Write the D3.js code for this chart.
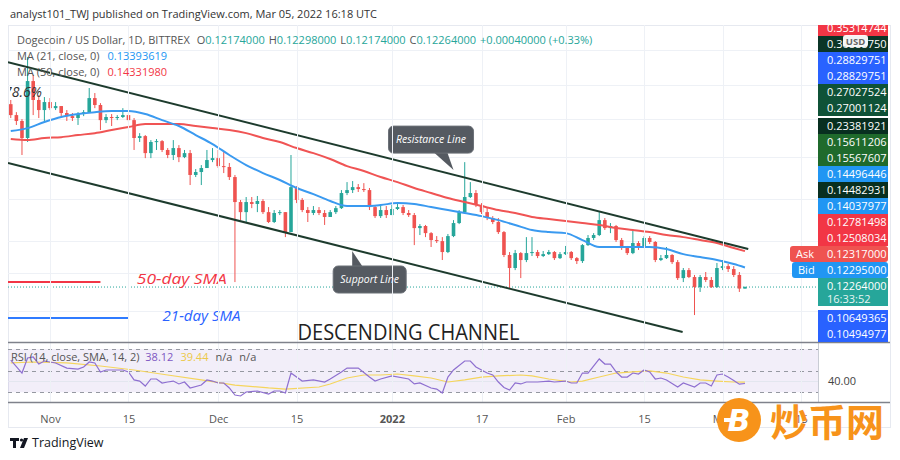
<!DOCTYPE html>
<html><head><meta charset="utf-8">
<script src="https://cdn.jsdelivr.net/npm/d3@7"></script>
<style>
body{margin:0;background:#fff;}
svg{display:block;font-family:"Open Sans","Noto Sans",sans-serif;}
</style></head><body>
<svg id="c" width="900" height="460"></svg>
<script>
// ---------------- DATA ----------------
const firstDate = "2021-10-25";
const lastDate = "2022-03-05";
const firstOpen = 0.2280;
const closes = [
0.2217,0.2183,0.2085,0.2413,0.2304,0.2246,0.2292,
0.2257,0.2269,0.2229,0.2211,0.2200,0.2223,0.2234,0.2315,0.2275,0.2188,
0.2206,0.2200,0.2206,0.2217,0.2188,0.2085,0.2096,0.1998,0.2062,0.2067,
0.2016,0.1987,0.2027,0.1975,0.1998,0.1872,0.1889,0.1912,0.1958,0.1969,
0.1923,0.1918,0.1860,0.1716,0.1658,0.1716,0.1705,0.1722,0.1658,0.1601,
0.1653,0.1658,0.1543,0.1802,0.1728,0.1670,0.1653,0.1670,0.1653,0.1630,
0.1658,0.1681,0.1768,0.1785,0.1802,0.1791,0.1785,0.1687,0.1635,0.1670,0.1641,
0.1676,0.1687,0.1653,0.1641,0.1566,0.1578,0.1537,0.1497,0.1491,0.1428,
0.1520,0.1595,0.1658,0.1745,0.1768,0.1699,0.1658,0.1624,0.1601,0.1543,
0.1411,0.1336,0.1422,0.1382,0.1422,0.1428,0.1405,0.1416,0.1428,0.1393,0.1416,
0.1428,0.1393,0.1376,0.1468,0.1509,0.1526,0.1612,0.1566,0.1578,0.1497,
0.1451,0.1422,0.1480,0.1457,0.1509,0.1486,0.1382,0.1393,0.1411,0.1370,
0.1278,0.1324,0.1284,0.1226,0.1284,0.1267,0.1226,0.1336,
0.1347,0.1330,0.1296,0.12174,0.12264];
const highs = [
0.2304,0.2234,0.2194,0.2551,0.2448,0.2332,0.2321,
0.2315,0.2292,0.2269,0.2246,0.2229,0.2234,0.2246,0.2373,0.2344,0.2286,
0.2223,0.2223,0.2217,0.2257,0.2229,0.2200,0.2113,0.2102,0.2073,0.2079,
0.2073,0.2027,0.2073,0.2044,0.2016,0.2016,0.1906,0.1929,0.2016,0.2027,
0.2016,0.2004,0.1941,0.1872,0.1728,0.1745,0.1745,0.1751,0.1733,0.1687,
0.1670,0.1670,0.1658,0.1987,0.1808,0.1739,0.1687,0.1693,0.1687,0.1670,
0.1670,0.1693,0.1785,0.1831,0.1837,0.1820,0.1825,0.1797,0.1699,0.1699,0.1693,
0.1699,0.1705,0.1699,0.1670,0.1653,0.1589,0.1584,0.1543,0.1520,0.1514,
0.1532,0.1612,0.1670,0.1946,0.1831,0.1785,0.1710,0.1681,0.1635,0.1624,
0.1549,0.1428,0.1440,0.1428,0.1514,0.1514,0.1440,0.1434,0.1440,0.1434,0.1428,
0.1463,0.1434,0.1399,0.1474,0.1526,0.1537,0.1658,0.1624,0.1595,0.1584,
0.1509,0.1463,0.1555,0.1491,0.1520,0.1520,0.1491,0.1411,0.1457,0.1416,
0.1382,0.1336,0.1336,0.1296,0.1296,0.1313,0.1284,0.1365,
0.1382,0.1359,0.1347,0.1313,0.12298];
const lows = [
0.2200,0.2160,0.1987,0.2062,0.2217,0.2200,0.2177,
0.2246,0.2246,0.2211,0.2183,0.2183,0.2160,0.2211,0.2229,0.2257,0.2131,
0.2171,0.2154,0.2188,0.2200,0.2177,0.2016,0.2062,0.1969,0.1969,0.2016,
0.2004,0.1969,0.1958,0.1946,0.1969,0.1814,0.1860,0.1814,0.1912,0.1946,
0.1912,0.1883,0.1843,0.1255,0.1612,0.1601,0.1681,0.1658,0.1647,0.1595,
0.1595,0.1641,0.1514,0.1543,0.1710,0.1658,0.1601,0.1641,0.1641,0.1584,
0.1630,0.1647,0.1676,0.1756,0.1768,0.1774,0.1774,0.1670,0.1624,0.1624,0.1624,
0.1641,0.1670,0.1641,0.1630,0.1468,0.1526,0.1514,0.1457,0.1480,0.1382,
0.1422,0.1514,0.1589,0.1653,0.1739,0.1687,0.1647,0.1612,0.1589,0.1532,
0.1399,0.1221,0.1324,0.1278,0.1370,0.1405,0.1393,0.1399,0.1411,0.1382,0.1388,
0.1411,0.1382,0.1359,0.1365,0.1463,0.1497,0.1520,0.1555,0.1537,0.1486,
0.1440,0.1411,0.1416,0.1440,0.1451,0.1474,0.1370,0.1376,0.1388,0.1359,
0.1267,0.1255,0.1278,0.1065,0.1198,0.1255,0.1221,0.1221,
0.1324,0.1313,0.1284,0.1198,0.12174];

const ma21Points = [
["2021-10-25",0.2125],["2021-10-28",0.2142],["2021-10-31",0.2177],["2021-11-03",0.2206],
["2021-11-06",0.2223],["2021-11-09",0.2234],["2021-11-12",0.2240],["2021-11-15",0.2240],
["2021-11-18",0.2223],["2021-11-21",0.2188],["2021-11-24",0.2154],["2021-11-27",0.2102],
["2021-11-30",0.2050],["2021-12-03",0.1987],["2021-12-06",0.1929],["2021-12-09",0.1883],
["2021-12-12",0.1843],["2021-12-15",0.1797],["2021-12-18",0.1762],["2021-12-21",0.1722],
["2021-12-24",0.1693],["2021-12-27",0.1693],["2021-12-30",0.1699],["2022-01-02",0.1710],
["2022-01-05",0.1705],["2022-01-08",0.1687],["2022-01-11",0.1670],["2022-01-14",0.1653],
["2022-01-17",0.1635],["2022-01-20",0.1612],["2022-01-23",0.1584],["2022-01-26",0.1555],
["2022-01-29",0.1543],["2022-02-01",0.1537],["2022-02-04",0.1497],["2022-02-07",0.1457],
["2022-02-10",0.1457],["2022-02-13",0.1457],["2022-02-16",0.1457],["2022-02-19",0.1445],
["2022-02-22",0.1416],["2022-02-25",0.1399],["2022-02-28",0.1382],["2022-03-03",0.1359],
["2022-03-05",0.13394]];
const ma50Points = [
["2021-10-25",0.2079],["2021-10-28",0.2073],["2021-10-31",0.2085],["2021-11-03",0.2090],
["2021-11-06",0.2102],["2021-11-09",0.2113],["2021-11-12",0.2131],["2021-11-15",0.2148],
["2021-11-18",0.2165],["2021-11-21",0.2165],["2021-11-24",0.2165],["2021-11-27",0.2154],
["2021-11-30",0.2142],["2021-12-03",0.2131],["2021-12-06",0.2113],["2021-12-09",0.2085],
["2021-12-12",0.2062],["2021-12-15",0.2027],["2021-12-18",0.1998],["2021-12-21",0.1964],
["2021-12-24",0.1923],["2021-12-27",0.1895],["2021-12-30",0.1860],["2022-01-02",0.1831],
["2022-01-05",0.1797],["2022-01-08",0.1768],["2022-01-11",0.1739],["2022-01-14",0.1716],
["2022-01-17",0.1693],["2022-01-20",0.1670],["2022-01-23",0.1653],["2022-01-26",0.1630],
["2022-01-29",0.1618],["2022-02-01",0.1607],["2022-02-04",0.1595],["2022-02-07",0.1584],
["2022-02-10",0.1566],["2022-02-13",0.1555],["2022-02-16",0.1543],["2022-02-19",0.1526],
["2022-02-22",0.1514],["2022-02-25",0.1497],["2022-02-28",0.1480],["2022-03-03",0.1451],
["2022-03-05",0.14332]];

const rsiPoints = [
["2021-10-25",59.8],["2021-10-27",47.8],["2021-10-28",61.7],["2021-10-29",62.6],["2021-10-30",56.1],
["2021-10-31",58.9],["2021-11-02",57.1],["2021-11-04",52.4],["2021-11-06",51.5],["2021-11-07",53.4],
["2021-11-08",58.0],["2021-11-09",57.1],["2021-11-10",48.8],["2021-11-11",50.6],["2021-11-14",50.6],
["2021-11-15",48.8],["2021-11-16",41.4],["2021-11-17",40.4],["2021-11-18",35.8],["2021-11-19",42.3],
["2021-11-20",42.3],["2021-11-21",38.6],["2021-11-22",39.5],["2021-11-23",40.4],["2021-11-24",37.7],
["2021-11-25",39.5],["2021-11-26",34.0],["2021-11-28",36.7],["2021-11-29",41.4],["2021-11-30",40.4],
["2021-12-01",38.6],["2021-12-02",38.6],["2021-12-03",34.0],["2021-12-04",27.5],["2021-12-05",26.6],
["2021-12-06",30.3],["2021-12-08",31.2],["2021-12-10",28.4],["2021-12-11",31.2],["2021-12-12",31.2],
["2021-12-13",29.4],["2021-12-14",47.8],["2021-12-16",40.4],["2021-12-18",41.4],["2021-12-20",39.5],
["2021-12-21",42.3],["2021-12-23",48.8],["2021-12-24",52.4],["2021-12-26",52.4],["2021-12-28",44.1],
["2021-12-29",40.4],["2021-12-30",42.3],["2022-01-01",45.1],["2022-01-04",42.3],["2022-01-05",37.7],
["2022-01-06",38.6],["2022-01-08",34.0],["2022-01-09",33.0],["2022-01-10",29.4],["2022-01-11",44.1],
["2022-01-12",50.6],["2022-01-14",58.9],["2022-01-15",58.9],["2022-01-16",53.4],["2022-01-18",47.8],
["2022-01-19",46.0],["2022-01-20",39.5],["2022-01-21",34.5],["2022-01-22",32.1],["2022-01-23",38.6],
["2022-01-24",37.7],["2022-01-25",39.5],["2022-01-27",39.5],["2022-01-29",40.4],["2022-01-30",39.5],
["2022-02-01",40.4],["2022-02-02",38.6],["2022-02-03",38.6],["2022-02-04",47.8],["2022-02-05",47.8],
["2022-02-07",60.8],["2022-02-08",56.1],["2022-02-09",56.1],["2022-02-10",48.8],["2022-02-11",44.1],
["2022-02-12",44.1],["2022-02-13",47.8],["2022-02-14",46.9],["2022-02-15",50.6],["2022-02-16",48.8],
["2022-02-17",42.3],["2022-02-18",43.2],["2022-02-19",41.4],["2022-02-21",34.9],["2022-02-22",38.6],
["2022-02-24",34.9],["2022-02-25",38.6],["2022-02-26",38.6],["2022-02-27",35.8],["2022-02-28",46.0],
["2022-03-01",46.9],["2022-03-02",44.1],["2022-03-03",41.0],["2022-03-04",37.5],["2022-03-05",38.12]];
const rsiMaPoints = [
["2021-10-25",57.1],["2021-10-29",58.0],["2021-11-04",57.1],["2021-11-10",54.3],["2021-11-16",50.6],
["2021-11-22",46.0],["2021-11-28",41.4],["2021-12-04",36.7],["2021-12-10",34.0],["2021-12-13",33.0],
["2021-12-19",34.9],["2021-12-21",37.7],["2021-12-24",43.2],["2021-12-27",46.0],["2021-12-30",46.0],
["2022-01-02",46.9],["2022-01-05",45.1],["2022-01-08",43.2],["2022-01-11",39.5],["2022-01-14",41.4],
["2022-01-17",44.1],["2022-01-20",45.1],["2022-01-24",46.0],["2022-01-26",45.1],["2022-01-29",42.3],
["2022-02-02",39.5],["2022-02-04",40.4],["2022-02-07",44.1],["2022-02-10",47.8],["2022-02-13",48.8],
["2022-02-16",49.7],["2022-02-19",47.8],["2022-02-22",44.1],["2022-02-25",41.4],["2022-02-28",40.4],
["2022-03-03",39.5],["2022-03-05",39.44]];

// trend-line drawings (date, price)
const resistanceLine = [["2021-10-24T12:00",0.2522],["2022-03-05T14:00",0.1445]];
const supportLine = [["2021-10-24T12:00",0.1941],["2022-02-21T21:00",0.0967]];

const timeTickDates = ["2021-11-01","2021-11-15","2021-12-01","2021-12-15","2022-01-01","2022-01-17","2022-02-01","2022-02-15","2022-03-01","2022-03-15"];
const timeTickLabels = ["Nov","15","Dec","15","2022","17","Feb","15","Mar","15"];
const gridPrices = [0.2591,0.2390,0.2194,0.1975,0.1733,0.1491,0.1307,0.1088];
const axisLabelTexts = ["0.35314744","0.30888750","0.28829751","0.28829751","0.27027524","0.27001124","",
  "0.23381921","0.15611206","0.15567607","0.14496446","0.14482931","0.14037977","0.12781498","0.12508034",
  "0.12317000","0.12295000","0.12264000","","0.10649365","0.10494977"];
const rsiLegendValues = ["38.12","39.44","n/a","n/a"];
const lastPrice = 0.12264;

// ---------------- STYLE ----------------
const axisLabelColors = ["#f23645","#0b3527","#2962ff","#2962ff","#0f5237","#0f5237","#ffffff",
  "#082f20","#1f6a2c","#1f6a2c","#2196f3","#082f20","#2196f3","#f23645","#f23645",
  "#ef5350","#2196f3","#26a69a","#ffffff","#2962ff","#2962ff"];
const UP="#26a69a", DOWN="#ef5350";

// ---------------- CHART ----------------
const svg = d3.select("#c");
const P = {l:8, r:818, top:25, mainB:342, rsiB:402, axisB:427, outerR:890};
const pd = s => new Date(s.length>10 ? s+"Z" : s+"T00:00Z");

const x = d3.scaleUtc().domain([pd("2021-11-01"), pd("2022-03-15")]).range([50, 801]);
const y = d3.scaleLinear().domain([0.0904, 0.2736]).range([343, 25]);
const yr = d3.scaleLinear().domain([30, 70]).range([392.3, 349]);

const defs = svg.append("defs");
defs.append("clipPath").attr("id","cm").append("rect").attr("x",P.l).attr("y",P.top).attr("width",P.r-P.l).attr("height",P.mainB-P.top);
defs.append("clipPath").attr("id","cr").append("rect").attr("x",P.l).attr("y",P.mainB+1).attr("width",P.r-P.l).attr("height",P.rsiB-P.mainB-1);
defs.append("clipPath").attr("id","cf").append("rect").attr("x",10).attr("y",P.top).attr("width",P.r-10).attr("height",P.mainB-P.top);

// header
svg.append("text").attr("x",10).attr("y",18).attr("font-size",11).attr("fill","#333").text("analyst101_TWJ published on TradingView.com, Mar 05, 2022 16:18 UTC");

// frame
svg.append("rect").attr("x",P.l+0.5).attr("y",P.top+0.5).attr("width",P.outerR-P.l).attr("height",P.axisB-P.top).attr("fill","#fff").attr("stroke","#e6e9f0");

// grid
const gMain = svg.append("g").attr("clip-path","url(#cm)");
const gRsi = svg.append("g").attr("clip-path","url(#cr)");
timeTickDates.forEach(d=>{
  const xx = Math.round(x(pd(d)))+0.5;
  svg.append("line").attr("x1",xx).attr("x2",xx).attr("y1",P.top).attr("y2",P.rsiB).attr("stroke","#eef1f6");
});
gridPrices.forEach(p=>{
  const yy = Math.round(y(p))+0.5;
  gMain.append("line").attr("x1",P.l).attr("x2",P.r).attr("y1",yy).attr("y2",yy).attr("stroke","#eef1f6");
});

// RSI pane
gRsi.append("rect").attr("x",P.l).attr("width",P.r-P.l).attr("y",yr(70)).attr("height",yr(30)-yr(70)).attr("fill","#7e57c2").attr("opacity",0.1);
gRsi.append("line").attr("x1",P.l).attr("x2",P.r).attr("y1",Math.round(yr(40))+0.5).attr("y2",Math.round(yr(40))+0.5).attr("stroke","#e3e6ef");
[70,50,30].forEach(v=>{
  gRsi.append("line").attr("x1",P.l).attr("x2",P.r).attr("y1",Math.round(yr(v))+0.5).attr("y2",Math.round(yr(v))+0.5)
    .attr("stroke","#9598a1").attr("stroke-dasharray","4,4");
});
const rline = d3.line().x(d=>x(pd(d[0]))).y(d=>yr(d[1]));
gRsi.append("path").attr("d",rline(rsiMaPoints)).attr("fill","none").attr("stroke","#f5d55c").attr("stroke-width",1.2);
gRsi.append("path").attr("d",rline(rsiPoints)).attr("fill","none").attr("stroke","#8e6fd0").attr("stroke-width",1.2);

// RSI legend
const rl = svg.append("text").attr("x",11).attr("y",361).attr("font-size",11);
rl.append("tspan").attr("fill","#555").text("RSI (14, close, SMA, 14, 2) ");
rl.append("tspan").attr("fill","#7e57c2").attr("dx",3).text(rsiLegendValues[0]);
rl.append("tspan").attr("fill","#ecc94b").attr("dx",7).text(rsiLegendValues[1]);
rl.append("tspan").attr("fill","#555").attr("dx",7).text(rsiLegendValues[2]);
rl.append("tspan").attr("fill","#555").attr("dx",7).text(rsiLegendValues[3]);

// dotted last price line
gMain.append("line").attr("x1",P.l).attr("x2",P.r).attr("y1",y(lastPrice)).attr("y2",y(lastPrice))
  .attr("stroke",UP).attr("stroke-dasharray","1,2");

// candles
const dates = d3.utcDay.range(pd(firstDate), d3.utcDay.offset(pd(lastDate),1));
const candles = dates.map((d,i)=>{
  const o = i===0 ? firstOpen : closes[i-1], c = closes[i];
  return {d, o, c, h:Math.max(highs[i],o,c), l:Math.min(lows[i],o,c)};
});
const bw = 3.6;
const cg = gMain.append("g");
candles.forEach(k=>{
  const col = k.c>=k.o ? UP : DOWN;
  const cx = x(k.d);
  cg.append("line").attr("x1",cx).attr("x2",cx).attr("y1",y(k.h)).attr("y2",y(k.l)).attr("stroke",col).attr("stroke-width",1);
  const top = Math.min(y(k.o),y(k.c)), hh = Math.max(1, Math.abs(y(k.o)-y(k.c)));
  cg.append("rect").attr("x",cx-bw/2).attr("y",top).attr("width",bw).attr("height",hh).attr("fill",col);
});

// MAs
const mline = d3.line().x(d=>x(pd(d[0]))).y(d=>y(d[1])).curve(d3.curveMonotoneX);
gMain.append("path").attr("d",mline(ma50Points)).attr("fill","none").attr("stroke","#f05454").attr("stroke-width",2);
gMain.append("path").attr("d",mline(ma21Points)).attr("fill","none").attr("stroke","#3a9af0").attr("stroke-width",2);

// channel lines
const tline = d3.line().x(d=>x(pd(d[0]))).y(d=>y(d[1]));
[resistanceLine, supportLine].forEach(L=>{
  gMain.append("path").attr("d",tline(L)).attr("stroke","#1d3b2d").attr("stroke-width",2).attr("fill","none");
});

// fib label (clipped at the left like the reference)
svg.append("g").attr("clip-path","url(#cf)").append("text").attr("x",4).attr("y",97).attr("font-size",14)
  .attr("font-style","italic").attr("fill","#333").text("78.6%");

// SMA labels (annotations placed in chart coordinates)
function annotLine(d0,d1,p,color){
  gMain.append("line").attr("x1",x(pd(d0))).attr("x2",x(pd(d1))).attr("y1",y(p)).attr("y2",y(p)).attr("stroke",color).attr("stroke-width",2);
}
annotLine("2021-10-24","2021-11-10",0.1255,"#f23645");
annotLine("2021-10-24","2021-11-15",0.1048,"#2f7bff");
gMain.append("text").attr("x",x(pd("2021-11-16T12:00"))).attr("y",y(0.1245)).attr("font-size",15).attr("font-style","italic")
  .attr("fill","#f23645").attr("textLength",90).attr("lengthAdjust","spacingAndGlyphs").text("50-day SMA");
gMain.append("text").attr("x",x(pd("2021-11-21T02:00"))).attr("y",y(0.1030)).attr("font-size",15).attr("font-style","italic")
  .attr("fill","#2962ff").attr("textLength",78).attr("lengthAdjust","spacingAndGlyphs").text("21-day SMA");
gMain.append("text").attr("x",x(pd("2021-12-15T04:00"))).attr("y",y(0.0920)).attr("font-size",22).attr("fill","#222")
  .attr("textLength",222).attr("lengthAdjust","spacingAndGlyphs").text("DESCENDING CHANNEL");

// callouts
function callout(tipDate, tipPrice, bx0, by0, bw_, bh_, base0, base1, label){
  const tx = x(pd(tipDate)), ty = y(tipPrice);
  const g = gMain.append("g");
  const X0 = tx+bx0, Y0 = ty+by0;
  const baseY = by0<0 ? Y0+bh_ : Y0;
  g.append("path").attr("d",`M${tx+base0},${baseY}L${tx},${ty}L${tx+base1},${baseY}Z`).attr("fill","#555a61");
  g.append("rect").attr("x",X0).attr("y",Y0).attr("width",bw_).attr("height",bh_).attr("rx",5).attr("fill","#555a61").attr("stroke","#6b7077");
  g.append("text").attr("x",X0+bw_/2).attr("y",Y0+bh_/2+3.5).attr("text-anchor","middle").attr("font-size",10.5)
    .attr("font-style","italic").attr("fill","#fff").text(label);
}
callout("2022-01-12", 0.1900, -65, -44, 85, 27, -19, -6, "Resistance Line");
callout("2021-12-24T22:00", 0.1434, -19, 15, 73, 27, 0, 10, "Support Line");

// main legend
const l1 = svg.append("text").attr("x",17).attr("y",44).attr("font-size",11);
l1.append("tspan").attr("fill","#555").text("Dogecoin / US Dollar, 1D, BITTREX  ");
[["O","0.12174000"],["H","0.12298000"],["L","0.12174000"],["C","0.12264000"]].forEach(([k,v])=>{
  l1.append("tspan").attr("fill","#555").attr("dx",4).text(k);
  l1.append("tspan").attr("fill",UP).text(v);
});
l1.append("tspan").attr("fill",UP).attr("dx",4).text("+0.00040000 (+0.33%)");
const l2 = svg.append("text").attr("x",17).attr("y",60).attr("font-size",11);
l2.append("tspan").attr("fill","#555").text("MA (21, close, 0)");
l2.append("tspan").attr("fill","#2196f3").attr("dx",8).text("0.13393619");
const l3 = svg.append("text").attr("x",17).attr("y",76).attr("font-size",11);
l3.append("tspan").attr("fill","#555").text("MA (50, close, 0)");
l3.append("tspan").attr("fill","#f23645").attr("dx",8).text("0.14331980");

// separators
svg.append("line").attr("x1",P.r+0.5).attr("x2",P.r+0.5).attr("y1",P.top).attr("y2",P.rsiB).attr("stroke","#c9ccd4");
[P.mainB+0.5, P.rsiB+0.5].forEach(yy=>{
  svg.append("line").attr("x1",P.l).attr("x2",P.outerR).attr("y1",yy).attr("y2",yy).attr("stroke","#7f828b").attr("stroke-width",1.5);
});

// price axis labels (stacked)
const ax = svg.append("g");
ax.append("clipPath").attr("id","ca").append("rect").attr("x",P.r).attr("y",P.top).attr("width",80).attr("height",P.mainB-P.top);
const axg = ax.append("g").attr("clip-path","url(#ca)");
let cur = 20;
axisLabelTexts.forEach((t,i)=>{
  let h = t==="" ? (i<10?2:4) : 16;
  if (i===17) h = 28;
  const col = axisLabelColors[i];
  let x0 = P.r, w = 70;
  if (i===15){ x0 = 790; w = 98; }
  if (i===16){ x0 = 792; w = 96; }
  if (i===15||i===16){
    svg.append("rect").attr("x",x0).attr("y",cur).attr("width",w).attr("height",h).attr("rx",3).attr("fill",col);
    svg.append("text").attr("x",x0+6).attr("y",cur+12).attr("font-size",11).attr("fill","#fff").text(i===15?"Ask":"Bid");
    svg.append("text").attr("x",827).attr("y",cur+12).attr("font-size",11).attr("fill","#fff").text(t);
  } else {
    axg.append("rect").attr("x",x0).attr("y",cur).attr("width",w).attr("height",h).attr("fill",col);
    if (t!==""){
      axg.append("text").attr("x",827).attr("y",cur+12).attr("font-size",11).attr("fill","#fff").text(t);
      if (i===17) axg.append("text").attr("x",827).attr("y",cur+25).attr("font-size",11).attr("fill","#e8f5f3").text("16:33:52");
    }
  }
  cur += h;
});
// USD chip
svg.append("rect").attr("x",843).attr("y",35).attr("width",25).attr("height",12).attr("rx",3).attr("fill","#fff").attr("opacity",0.95);
svg.append("text").attr("x",855.5).attr("y",44.5).attr("text-anchor","middle").attr("font-size",9.5).attr("font-weight","bold").attr("fill","#666").text("USD");
// rsi axis label
svg.append("text").attr("x",828).attr("y",yr(40)+4).attr("font-size",11).attr("fill","#444").text("40.00");

// time axis
const axis = d3.axisBottom(x).tickValues(timeTickDates.map(pd)).tickFormat((d,i)=>timeTickLabels[i]).tickSize(0).tickPadding(13);
const ta = svg.append("g").attr("transform",`translate(0,${P.rsiB})`).call(axis);
ta.select(".domain").remove();
ta.selectAll("text").attr("font-size",11).attr("fill","#555").attr("font-family","Open Sans, Noto Sans, sans-serif")
  .attr("font-weight",(d,i)=>timeTickLabels[i]==="2022"?"bold":"normal");

// TradingView logo
const lg = svg.append("g");
lg.append("path").attr("d","M10,438h9v3h-3v7h-3v-7h-3z").attr("fill","#131722");
lg.append("circle").attr("cx",21.5).attr("cy",440).attr("r",1.6).attr("fill","#131722");
lg.append("path").attr("d","M24,438h4l-4,10h-4z").attr("fill","#131722");
svg.append("text").attr("x",32).attr("y",447).attr("font-size",12.5).attr("fill","#131722").text("TradingView");

// watermark
svg.append("circle").attr("cx",739).attr("cy",420).attr("r",22).attr("fill","#f7931a");
svg.append("text").attr("x",739).attr("y",431).attr("text-anchor","middle").attr("font-size",30).attr("font-weight","bold").attr("font-style","italic").attr("fill","#fff").attr("font-family","DejaVu Sans, sans-serif").text("B");
svg.append("rect").attr("x",724).attr("y",418).attr("width",10).attr("height",4).attr("fill","#fff");
svg.append("text").attr("x",770).attr("y",436).attr("font-size",38).attr("font-weight","bold").attr("fill","#f7931a")
  .attr("font-family","Noto Sans CJK SC, sans-serif").text("炒币网");
</script>
</body></html>
